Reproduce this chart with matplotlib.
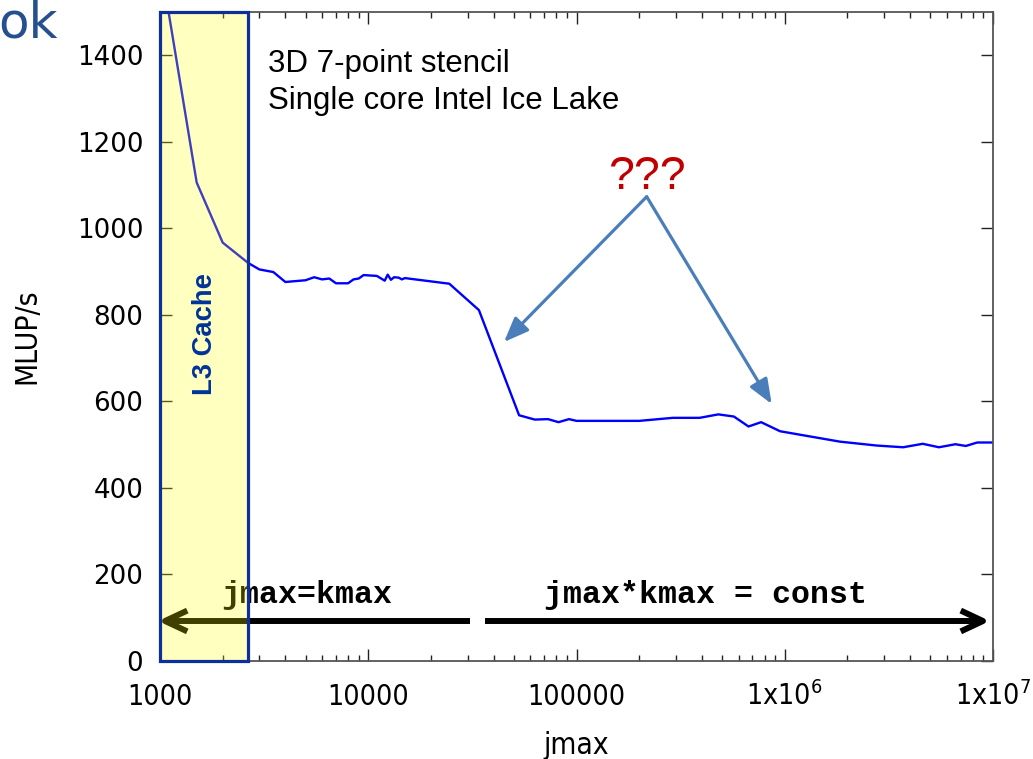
import glob
import matplotlib
matplotlib.use('Agg')
import matplotlib.pyplot as plt
import matplotlib.font_manager as fm
from matplotlib.ticker import FixedLocator, FixedFormatter, LogLocator, NullFormatter
from matplotlib.patches import Rectangle

# ---------------- data ----------------
jmax = [1000, 1500, 2000, 2650, 3000, 3500, 4000, 5000, 5500, 6000, 6500, 7000,
        8000, 8500, 9000, 9500, 11000, 12000, 12400, 12850, 13300, 14000, 14500,
        15000, 24500, 34000, 53000, 63000, 73000, 82000, 92000, 100000, 200000,
        290000, 390000, 480000, 570000, 670000, 770000, 950000, 1840000, 2760000,
        3700000, 4600000, 5500000, 6600000, 7400000, 8400000, 10000000]
mlups = [1620, 1106, 967, 920, 905, 899, 876, 880, 887, 882, 884, 873,
         873, 882, 884, 892, 890, 879, 893, 881, 887, 886, 882,
         885, 872, 811, 568, 558, 559, 552, 559, 555, 555,
         562, 562, 570, 565, 542, 552, 531, 507, 498,
         494, 502, 494, 501, 497, 505, 505]

x_ticks = [1e3, 1e4, 1e5, 1e6, 1e7]
x_tick_labels = ['1000', '10000', '100000',
                 r'$\mathregular{1x10^{6}}$', r'$\mathregular{1x10^{7}}$']
y_ticks = [0, 200, 400, 600, 800, 1000, 1200, 1400]
y_tick_labels = [str(v) for v in y_ticks]
l3_range = (1000, 2650)

# ---------------- fonts ----------------
def find_font(basename):
    for f in fm.fontManager.ttflist:
        if f.fname.endswith('/' + basename):
            return f.fname
    hits = glob.glob('/usr/share/fonts/**/' + basename, recursive=True)
    return hits[0] if hits else None

cond_path = find_font('DejaVuSansCondensed.ttf')
if cond_path:
    def cond_fp(size):
        return fm.FontProperties(fname=cond_path, size=size)
    XTICK_SIZE = 20.5
    LABEL_SIZE = 21.5
else:
    def cond_fp(size):
        return fm.FontProperties(family='DejaVu Sans', size=size)
    XTICK_SIZE = 18.8
    LABEL_SIZE = 19.5
ytick_fp = fm.FontProperties(family='DejaVu Sans', size=18.8)

# ---------------- figure ----------------
W, H = 1033, 759
fig = plt.figure(figsize=(W / 100, H / 100), dpi=100)
L, R, B, T = 160, 993, 661, 12
ax = fig.add_axes([L / W, 1 - B / H, (R - L) / W, (B - T) / H])


def apx(x, y):
    """pixel position -> axes fraction"""
    return ((x - L) / (R - L), (B - y) / (B - T))


ax.plot(jmax, mlups, color='#0000ff', lw=1.7, zorder=2)

ax.set_xscale('log')
ax.set_xlim(1e3, 1e7)
ax.set_ylim(0, 1500)

ax.xaxis.set_major_locator(FixedLocator(x_ticks))
ax.xaxis.set_major_formatter(FixedFormatter(x_tick_labels))
ax.xaxis.set_minor_locator(LogLocator(base=10, subs=range(2, 10), numticks=20))
ax.xaxis.set_minor_formatter(NullFormatter())
ax.yaxis.set_major_locator(FixedLocator(y_ticks))
ax.yaxis.set_major_formatter(FixedFormatter(y_tick_labels))

ax.tick_params(which='both', direction='in', top=True, right=True,
               color='#222222', width=1.0)
ax.tick_params(which='major', length=8.6)
ax.tick_params(which='minor', length=4.0)
ax.tick_params(axis='x', which='major', pad=31.5)
ax.tick_params(axis='y', which='major', pad=12)

for sp in ax.spines.values():
    sp.set_color('#555555')
    sp.set_linewidth(1.3)

for lab in ax.get_xticklabels():
    lab.set_fontproperties(cond_fp(XTICK_SIZE))
for lab in ax.get_yticklabels():
    lab.set_fontproperties(ytick_fp)
for tk in ax.xaxis.get_major_ticks():
    tk.label1.set_va('baseline')

ax.set_xlabel('jmax', fontproperties=cond_fp(LABEL_SIZE), va='baseline', ha='center')
ax.xaxis.set_label_coords(*apx(576, 754))
ax.set_ylabel('MLUP/s', fontproperties=cond_fp(LABEL_SIZE), va='center', ha='center',
              rotation_mode='default')
ax.yaxis.set_label_coords(*apx(27, 336))

# annotation texts
ax.text(*apx(268, 72), '3D 7-point stencil', transform=ax.transAxes,
        family='Liberation Sans', fontsize=22.5, va='baseline', ha='left', zorder=3)
ax.text(*apx(268, 109), 'Single core Intel Ice Lake', transform=ax.transAxes,
        family='Liberation Sans', fontsize=22.5, va='baseline', ha='left', zorder=3)
ax.text(*apx(646.7, 189), '???', transform=ax.transAxes,
        family='Liberation Sans', fontsize=33.5, color='#c00000',
        va='baseline', ha='center', zorder=3)

# blue arrows from ???
blue = '#4a7ebb'
for tip in [(504, 342), (771.7, 404)]:
    ax.annotate('', xy=apx(*tip), xytext=apx(646.7, 196.7),
                xycoords='axes fraction', textcoords='axes fraction',
                arrowprops=dict(arrowstyle='-|>,head_length=1.5,head_width=0.6',
                                color=blue, lw=2.3, shrinkA=0, shrinkB=0),
                zorder=3)

# black range arrows
for start, tip in [((470, 621), (158, 621)), ((485, 621), (990, 621))]:
    ax.annotate('', xy=apx(*tip), xytext=apx(*start),
                xycoords='axes fraction', textcoords='axes fraction',
                arrowprops=dict(arrowstyle='->,head_length=1.6,head_width=0.75',
                                color='black', lw=4.3, shrinkA=0, shrinkB=0,
                                joinstyle='round', capstyle='butt'),
                zorder=3, annotation_clip=False)

ax.text(*apx(306.7, 603), 'jmax=kmax', transform=ax.transAxes,
        family='Liberation Mono', weight='bold', fontsize=22.8,
        va='baseline', ha='center', zorder=3)
ax.text(*apx(705.5, 603), 'jmax*kmax = const', transform=ax.transAxes,
        family='Liberation Mono', weight='bold', fontsize=22.8,
        va='baseline', ha='center', zorder=3)

# L3 cache region (translucent yellow on top, then border)
ax.axvspan(l3_range[0], l3_range[1], facecolor=(1, 1, 0, 0.25), edgecolor='none', zorder=5)
ax.add_patch(Rectangle((l3_range[0], 0), l3_range[1] - l3_range[0], 1,
                       transform=ax.get_xaxis_transform(), fill=False,
                       edgecolor='#0d2f9c', lw=2.3, zorder=6, clip_on=False))
ax.text(*apx(205, 334), 'L3 Cache', transform=ax.transAxes, rotation=90,
        family='Liberation Sans', weight='bold', fontsize=19.7, color='#003399',
        ha='center', va='center', zorder=7)

# slide title fragment at top-left
fig.text(58 / W, 1 - 37 / H, 'ok', ha='right', va='baseline', fontsize=36,
         family='DejaVu Sans', color='#24508f')

fig.savefig('out.png', dpi=100)
